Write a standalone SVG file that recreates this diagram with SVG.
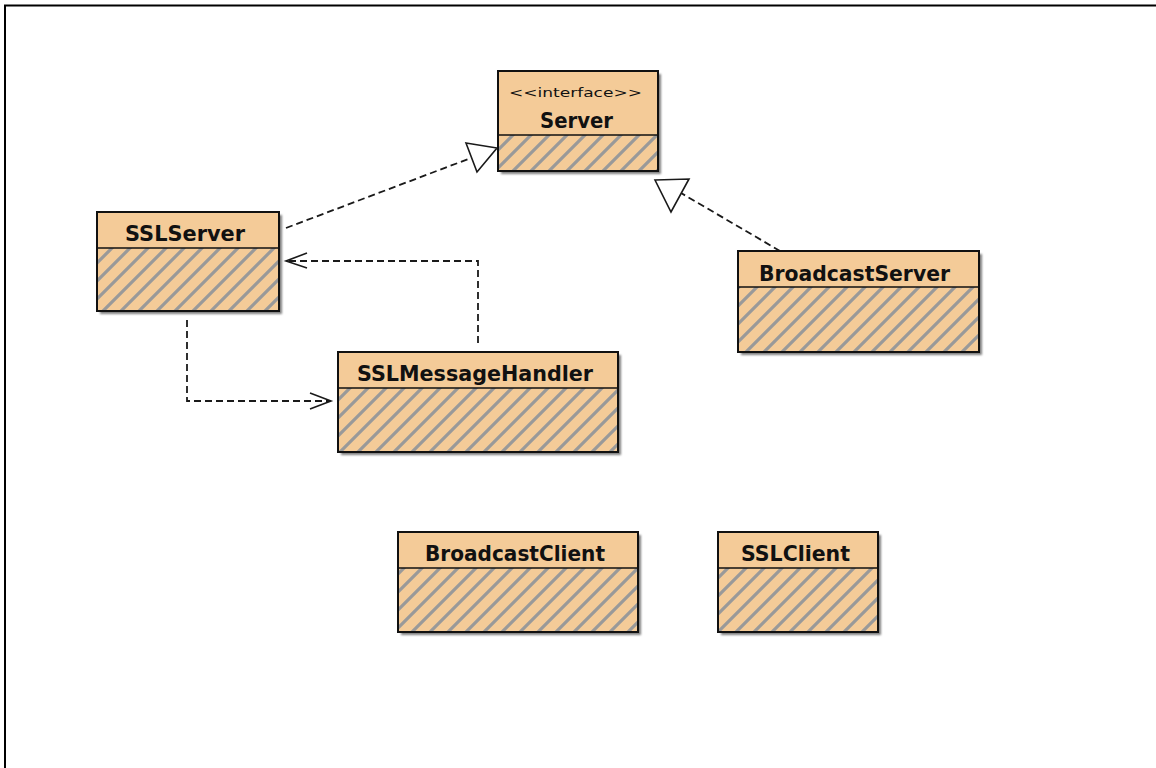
<svg xmlns="http://www.w3.org/2000/svg" width="1156" height="768" viewBox="0 0 1156 768">
<style>
.box{stroke:#111;stroke-width:2}
.hdr{fill:#f4cb98}
.body{fill:url(#hatch)}
.div{stroke:#111;stroke-width:1.5}
.shadow{fill:#555;opacity:.75;filter:url(#blur)}
.lbl{font-family:"DejaVu Sans","Liberation Sans",sans-serif;font-weight:bold;font-size:21px;fill:#111}
.st{font-family:"DejaVu Sans","Liberation Sans",sans-serif;font-size:13px;fill:#111}
.dash{fill:none;stroke:#1a1a1a;stroke-width:1.8;stroke-dasharray:7 4}
.head{fill:none;stroke:#1a1a1a;stroke-width:1.6}
.tri{fill:#fff;stroke:#1a1a1a;stroke-width:1.6}
</style>
<defs>
<filter id="blur" x="-10%" y="-10%" width="120%" height="120%"><feGaussianBlur stdDeviation="0.8"/></filter>
<pattern id="hatch" width="18" height="18" patternUnits="userSpaceOnUse">
<rect width="18" height="18" fill="#f4cb98"/>
<path d="M-2,20 L20,-2 M-5,5 L5,-5 M13,23 L23,13" stroke="#999" stroke-width="3.2"/>
</pattern>
</defs>
<rect width="1156" height="768" fill="#fff"/>
<path d="M5,768 V5.5 H1156" fill="none" stroke="#000" stroke-width="2"/>

<g id="connectors">
<line class="dash" x1="286" y1="228" x2="471" y2="158"/>
<polygon class="tri" points="466,143 497,148 477,172"/>
<line class="dash" x1="780" y1="251" x2="681" y2="193"/>
<polygon class="tri" points="655,180 689,179 671,212"/>
<polyline class="dash" points="478,343 478,261 287,261"/>
<polyline class="head" points="307,253 286,261 307,268"/>
<polyline class="dash" points="187,320 187,401 330,401"/>
<polyline class="head" points="310,393 331,401 310,409"/>
</g>

<g id="server">
<rect class="shadow" x="501" y="74" width="160" height="100"/>
<rect class="hdr" x="498" y="71" width="160" height="64"/>
<rect class="body" x="498" y="135" width="160" height="36"/>
<line class="div" x1="498" y1="135" x2="658" y2="135"/>
<rect class="box" x="498" y="71" width="160" height="100" fill="none"/>
<text class="st" x="509" y="97" textLength="133" lengthAdjust="spacingAndGlyphs">&lt;&lt;interface&gt;&gt;</text>
<text class="lbl" x="540" y="128" textLength="73" lengthAdjust="spacingAndGlyphs">Server</text>
</g>

<g id="sslserver">
<rect class="shadow" x="100" y="215" width="182" height="99"/>
<rect class="hdr" x="97" y="212" width="182" height="36"/>
<rect class="body" x="97" y="248" width="182" height="63"/>
<line class="div" x1="97" y1="248" x2="279" y2="248"/>
<rect class="box" x="97" y="212" width="182" height="99" fill="none"/>
<text class="lbl" x="125" y="241" textLength="120" lengthAdjust="spacingAndGlyphs">SSLServer</text>
</g>

<g id="sslmessagehandler">
<rect class="shadow" x="341" y="355" width="280" height="100"/>
<rect class="hdr" x="338" y="352" width="280" height="36"/>
<rect class="body" x="338" y="388" width="280" height="64"/>
<line class="div" x1="338" y1="388" x2="618" y2="388"/>
<rect class="box" x="338" y="352" width="280" height="100" fill="none"/>
<text class="lbl" x="357" y="381" textLength="236" lengthAdjust="spacingAndGlyphs">SSLMessageHandler</text>
</g>

<g id="broadcastserver">
<rect class="shadow" x="741" y="254" width="241" height="101"/>
<rect class="hdr" x="738" y="251" width="241" height="36"/>
<rect class="body" x="738" y="287" width="241" height="65"/>
<line class="div" x1="738" y1="287" x2="979" y2="287"/>
<rect class="box" x="738" y="251" width="241" height="101" fill="none"/>
<text class="lbl" x="759" y="281" textLength="191" lengthAdjust="spacingAndGlyphs">BroadcastServer</text>
</g>

<g id="broadcastclient">
<rect class="shadow" x="401" y="535" width="240" height="100"/>
<rect class="hdr" x="398" y="532" width="240" height="36"/>
<rect class="body" x="398" y="568" width="240" height="64"/>
<line class="div" x1="398" y1="568" x2="638" y2="568"/>
<rect class="box" x="398" y="532" width="240" height="100" fill="none"/>
<text class="lbl" x="425" y="561" textLength="180" lengthAdjust="spacingAndGlyphs">BroadcastClient</text>
</g>

<g id="sslclient">
<rect class="shadow" x="721" y="535" width="160" height="100"/>
<rect class="hdr" x="718" y="532" width="160" height="36"/>
<rect class="body" x="718" y="568" width="160" height="64"/>
<line class="div" x1="718" y1="568" x2="878" y2="568"/>
<rect class="box" x="718" y="532" width="160" height="100" fill="none"/>
<text class="lbl" x="741" y="561" textLength="109" lengthAdjust="spacingAndGlyphs">SSLClient</text>
</g>
</svg>
